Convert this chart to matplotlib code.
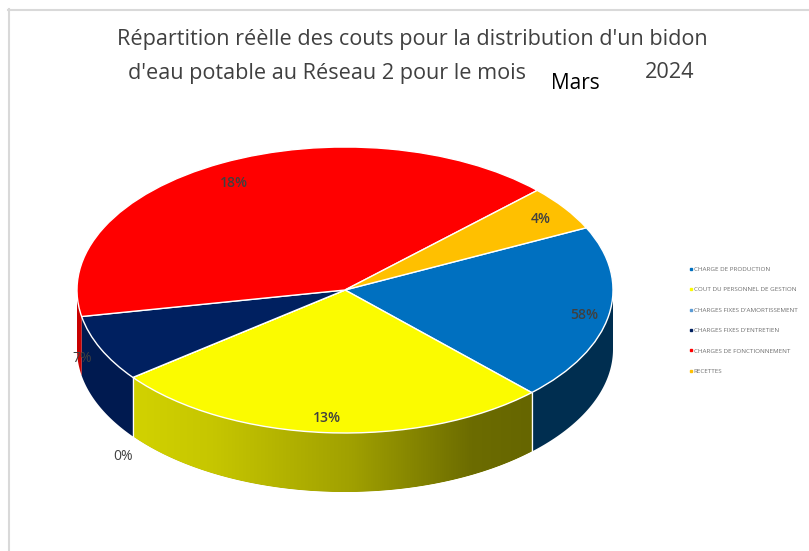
import numpy as np
import matplotlib
matplotlib.use("Agg")
import matplotlib.pyplot as plt
from matplotlib.colors import LinearSegmentedColormap
from matplotlib.lines import Line2D
from matplotlib.patches import Polygon

categories = ["CHARGE DE PRODUCTION", "COUT DU PERSONNEL DE GESTION",
              "CHARGES FIXES D'AMORTISSEMENT", "CHARGES FIXES D'ENTRETIEN",
              "CHARGES DE FONCTIONNEMENT", "RECETTES"]
drawn_shares = [19.9, 26.8, 0.0, 7.5, 40.7, 5.1]
printed_labels = ["58%", "13%", "0%", "7%", "18%", "4%"]
top_colors = ["#0070C0", "#FBFB00", "#5B9BD5", "#002060", "#FF0000", "#FFC000"]
wall_colors = ["#002E50", "#A0A000", "#2A5F8F", "#001A50", "#C80000", "#B08500"]

W, H = 809, 551
CX, CY, A, B, DEPTH = 345, 290, 268, 143, 59
START = 25.8

fig = plt.figure(figsize=(W / 100, H / 100), dpi=100, facecolor="white")
ax = fig.add_axes([0, 0, 1, 1])
plt.rcParams["font.family"] = ["Open Sans", "DejaVu Sans"]

wedges, _ = ax.pie(drawn_shares, colors=top_colors, startangle=START, counterclock=False,
                   radius=1, center=(0, 0),
                   wedgeprops=dict(edgecolor="white", linewidth=1.0, zorder=5))
ax.set_aspect("auto")
xlim = (-CX / A, (W - CX) / A)
ylim = ((CY - H) / B, CY / B)
depth = DEPTH / B

def px(x, y):
    return (x - CX) / A, (CY - y) / B

edges = START - np.concatenate([[0], np.cumsum(drawn_shares)]) * 3.6
for i, color in enumerate(wall_colors):
    if drawn_shares[i] == 0:
        continue
    th = np.radians(np.linspace(edges[i + 1], edges[i], 300))
    th = th[np.sin(th) <= 0]
    if th.size == 0:
        continue
    xs, ys = np.cos(th), np.sin(th)
    pts = np.column_stack([np.r_[xs, xs[::-1]], np.r_[ys, ys[::-1] - depth]])
    poly = Polygon(pts, closed=True, facecolor=color, edgecolor="none", zorder=2)
    ax.add_patch(poly)
    if categories[i].startswith("COUT"):
        cmap = LinearSegmentedColormap.from_list(
            "wall", [(0, "#D2D200"), (0.2, "#C6C600"), (0.55, "#A0A000"),
                     (0.85, "#6C6C00"), (1, "#666600")])
        grad = np.linspace(0, 1, 256)[None, :]
        im = ax.imshow(grad, cmap=cmap, aspect="auto", zorder=3,
                       extent=(xs.min(), xs.max(), -1.6, 0), interpolation="bilinear")
        im.set_clip_path(poly)
        # smooth the clipped lower rim of the gradient
        ax.plot(xs, ys - depth - 0.006, color="white", lw=1.0, zorder=3.5)
        for t in (th[0], th[-1]):
            ax.plot([np.cos(t)] * 2, [np.sin(t), np.sin(t) - depth],
                    color="white", lw=0.9, zorder=4)

ax.set_xlim(xlim)
ax.set_ylim(ylim)
ax.axis("off")

label_px = [(584, 315), (327, 418), (123, 457), (82, 359), (234, 183), (541, 219)]
label_weight = ["semibold", "semibold", "normal", "normal", "semibold", "semibold"]
for s, (x, y), w in zip(printed_labels, label_px, label_weight):
    dx, dy = px(x, y)
    ax.text(dx, dy, s, ha="center", va="center", fontsize=10, color="#404040",
            fontweight=w, zorder=8)

tx, ty = px(412, 39.5)
ax.text(tx, ty, "Répartition réèlle des couts pour la distribution d'un bidon",
        ha="center", va="center", fontsize=15.6, color="#404040", zorder=8)
tx, ty = px(327, 73)
ax.text(tx, ty, "d'eau potable au Réseau 2 pour le mois",
        ha="center", va="center", fontsize=15.6, color="#404040", zorder=8)
tx, ty = px(670, 73)
ax.text(tx, ty, "2024", ha="center", va="center", fontsize=15.6, color="#404040", zorder=8)
tx, ty = px(575, 83)
ax.text(tx, ty, "Mars", ha="center", va="center", fontsize=15, color="black", zorder=8)

handles = [Line2D([], [], linestyle="none", marker="s", markersize=1.8, color=c) for c in top_colors]
ax.legend(handles, categories, loc="upper left", bbox_to_anchor=(687.5 / W, 1 - 266.5 / H),
          bbox_transform=fig.transFigure, frameon=False, fontsize=4.5, labelspacing=2.41,
          handletextpad=0.0, handlelength=1.0, borderpad=0, borderaxespad=0,
          labelcolor="#6E6E6E")

fig.add_artist(Line2D([8.5 / W, 8.5 / W], [0, 1 - 9 / H], color="#D9D9D9", lw=1.5))
fig.add_artist(Line2D([8 / W, 1], [1 - 9.5 / H, 1 - 9.5 / H], color="#D9D9D9", lw=1.5))

fig.savefig("out.png", dpi=100)
